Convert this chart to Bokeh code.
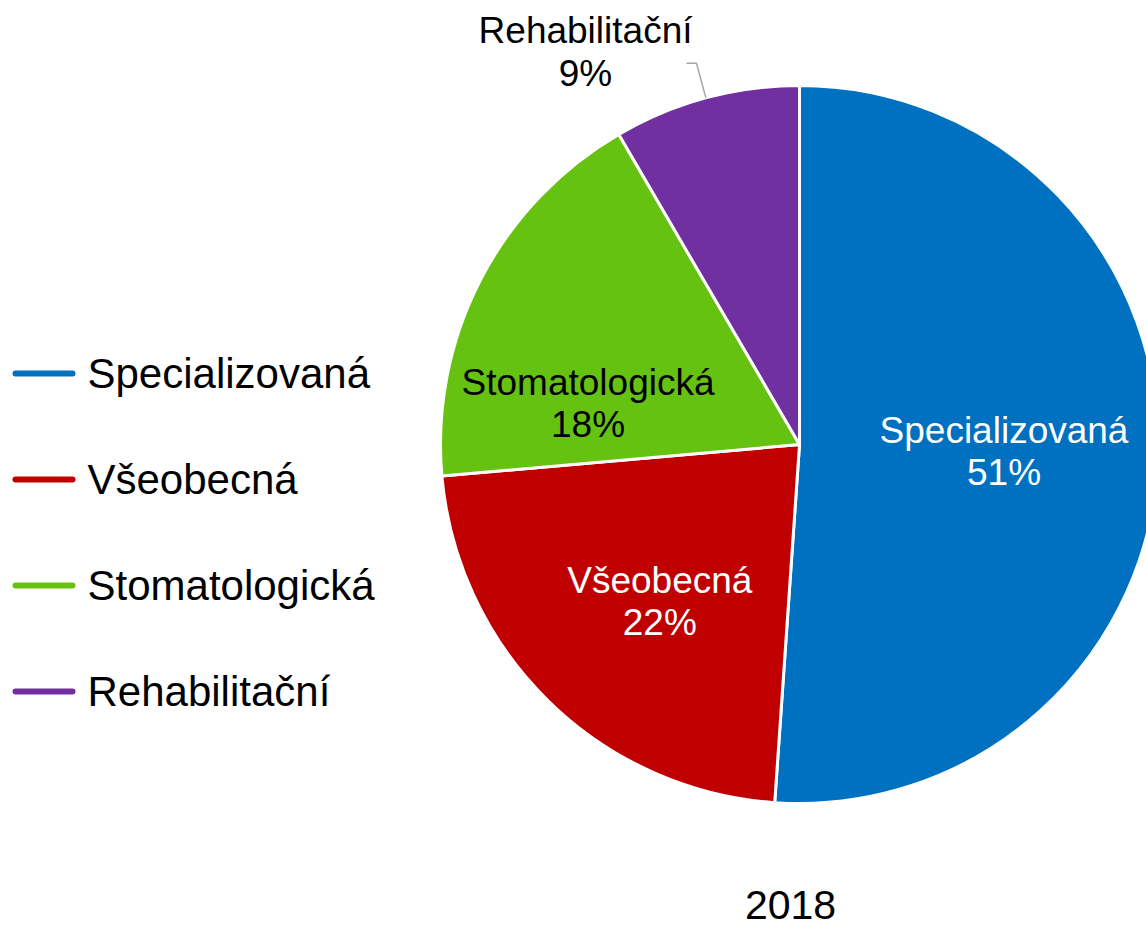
import math
from bokeh.plotting import figure
from bokeh.models import Range1d, ColumnDataSource
from bokeh.core.properties import value
from bokeh.embed import file_html
from bokeh.resources import INLINE

# ---- data ----
categories = ["Specializovaná", "Všeobecná", "Stomatologická", "Rehabilitační"]
shares = [51.1, 22.5, 18.0, 8.4]
pct_labels = ["51%", "22%", "18%", "9%"]
colors = ["#0070C0", "#C00000", "#66C211", "#7030A0"]
label_colors = ["white", "white", "black", "black"]
title = "2018"

# ---- layout / style ----
W, H = 1146, 928
cx, cy, R = 799, 484, 359
FONT = value("Liberation Sans")
label_r = [0.57, 0.585, 0.60, 1.245]
label_ang = [-2.0, -131.7, 169.0, 118.6]

p = figure(width=W, height=H, output_backend="svg", toolbar_location=None,
           x_range=Range1d(0, W), y_range=Range1d(0, H), min_border=0)
p.axis.visible = False
p.grid.visible = False
p.outline_line_color = None
p.background_fill_color = "white"
p.border_fill_color = "white"

total = sum(shares)
starts, ends, mids = [], [], []
a = 90.0
for s in shares:
    sweep = 360.0 * s / total
    starts.append(math.radians(a))
    ends.append(math.radians(a - sweep))
    mids.append(a - sweep / 2)
    a -= sweep

src = ColumnDataSource(dict(start=starts, end=ends, color=colors))
p.wedge(x=cx, y=cy, radius=R, start_angle="start", end_angle="end",
        direction="clock", fill_color="color", line_color="white",
        line_width=3, source=src)

# data labels
lx = [cx + R * r * math.cos(math.radians(t)) for r, t in zip(label_r, label_ang)]
ly = [cy + R * r * math.sin(math.radians(t)) for r, t in zip(label_r, label_ang)]
texts = [f"{c}\n{pl}" for c, pl in zip(categories, pct_labels)]
p.text(x=lx, y=ly, text=texts, text_color=label_colors, text_font=FONT,
       text_font_size="37px", text_align="center", text_baseline="middle",
       text_line_height=1.03)

# leader line for the outside label (Rehabilitační)
i = 3
m = math.radians(mids[i])
x_in, y_in = cx + R * math.cos(m), cy + R * math.sin(m)
x_mid, y_mid = cx + R * 1.1 * math.cos(m), cy + R * 1.1 * math.sin(m)
p.line(x=[x_in, x_mid, x_mid - 10], y=[y_in, y_mid, y_mid],
       line_color="#A6A6A6", line_width=1.5)

# legend
leg_y = [555 - k * 106 for k in range(len(categories))]
p.segment(x0=[15] * 4, y0=leg_y, x1=[72] * 4, y1=leg_y, line_color=colors,
          line_width=6, line_cap="round")
p.text(x=[87] * 4, y=leg_y, text=categories, text_color="black", text_font=FONT,
       text_font_size="42px", text_align="left", text_baseline="middle")

# title below the pie
p.text(x=[790], y=[24], text=[title], text_color="black", text_font=FONT,
       text_font_size="41px", text_align="center", text_baseline="middle")

open("out.html", "w").write(file_html(p, INLINE))
